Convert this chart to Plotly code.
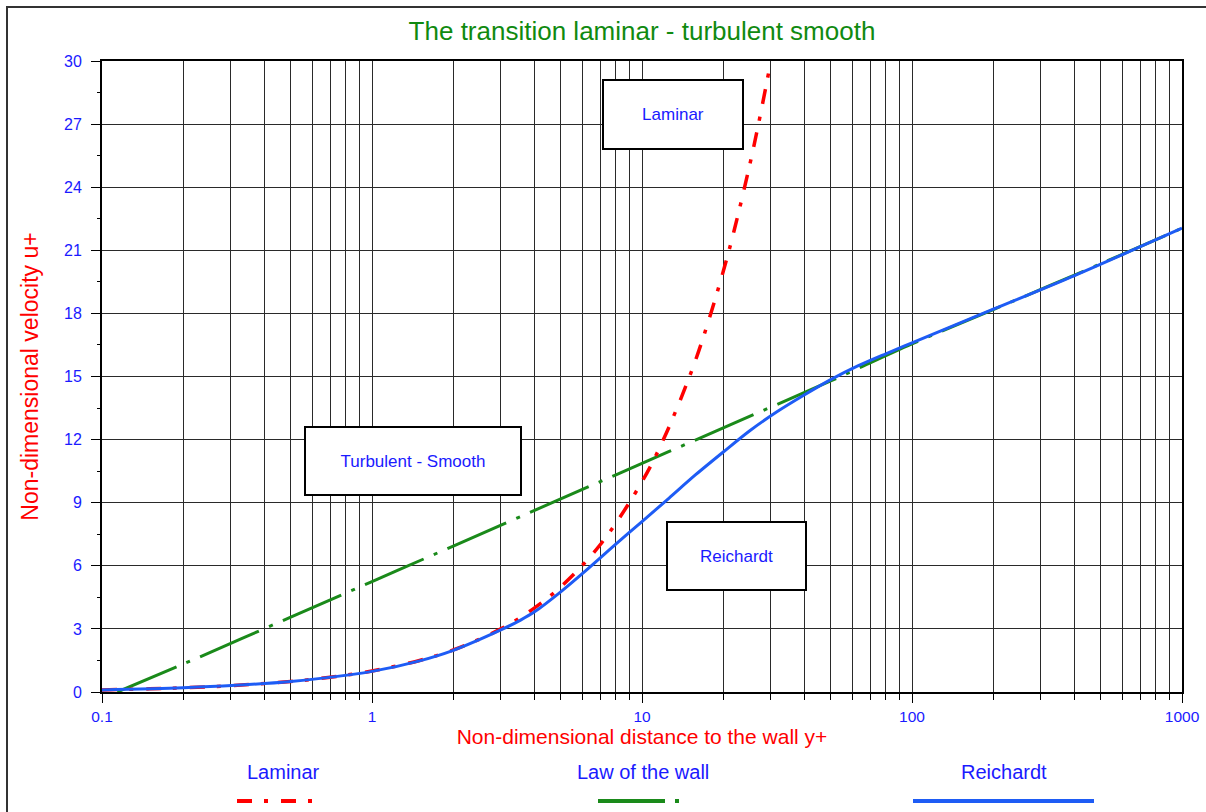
import plotly.graph_objects as go

# ---------------- data ----------------
laminar_x = [0.1, 0.15, 0.2, 0.3, 0.5, 0.7, 1, 1.5, 2, 3, 4, 5, 7, 10, 12, 15, 17, 20, 22, 25, 27, 29.5]
laminar_u = [0.1, 0.15, 0.2, 0.3, 0.5, 0.7, 1, 1.5, 2, 3, 4, 5, 7, 10, 12, 15, 17, 20, 22, 25, 27, 29.5]

wall_x = [0.114, 0.2, 0.5, 1, 2, 5, 10, 20, 50, 100, 200, 500, 1000]
wall_u = [0.0, 1.33, 3.56, 5.25, 6.94, 9.18, 10.87, 12.56, 14.79, 16.55, 18.18, 20.36, 22.05]

reich_x = [0.1, 0.2, 0.5, 1, 1.5, 2, 3, 3.55, 4, 5, 6.3, 7.9, 10, 12.6, 15.8, 20, 25, 31.6,
           40, 50, 63, 80, 100, 200, 400, 1000]
reich_u = [0.1, 0.2, 0.5, 0.98, 1.48, 1.98, 2.95, 3.42, 3.81, 4.76, 5.85, 6.97, 8.10, 9.22,
           10.33, 11.41, 12.41, 13.32, 14.13, 14.85, 15.50, 16.08, 16.60, 18.2, 19.8, 22.05]

x_tickvals = [0.1, 1, 10, 100, 1000]
x_ticktext = ["0.1", "1", "10", "100", "1000"]
x_minorvals = [0.2, 0.3, 0.4, 0.5, 0.6, 0.7, 0.8, 0.9,
               2, 3, 4, 5, 6, 7, 8, 9,
               20, 30, 40, 50, 60, 70, 80, 90,
               200, 300, 400, 500, 600, 700, 800, 900]
y_tickvals = [0, 3, 6, 9, 12, 15, 18, 21, 24, 27, 30]

series_names = ["Laminar", "Law of the wall", "Reichardt"]
box_labels = ["Laminar", "Turbulent - Smooth", "Reichardt"]

# ---------------- styles ----------------
FONT = "Liberation Sans, Arial, sans-serif"
RED = "#ff0000"
GREEN = "#1a8a1a"
BLUE = "#1e5cf5"
TXTBLUE = "#1a1aff"
RED_DASH = "15px,12px,4px,13px"
GREEN_DASH = "64px,11px,4px,11px"

W, H = 1206, 812
L, R, T, B = 102, 24, 61, 120
PW = W - L - R
PH = H - T - B


def px2paper(px, py):
    return (px - L) / PW, (H - B - py) / PH


fig = go.Figure()
fig.add_trace(go.Scatter(x=wall_x, y=wall_u, mode="lines", name=series_names[1],
                         line=dict(color=GREEN, width=3, dash=GREEN_DASH, shape="spline"),
                         showlegend=False))
fig.add_trace(go.Scatter(x=laminar_x, y=laminar_u, mode="lines", name=series_names[0],
                         line=dict(color=RED, width=3.5, dash=RED_DASH, shape="spline"),
                         showlegend=False))
fig.add_trace(go.Scatter(x=reich_x, y=reich_u, mode="lines", name=series_names[2],
                         line=dict(color=BLUE, width=3, shape="spline", smoothing=0.8),
                         showlegend=False))

grid_col = "#2a2a2a"
fig.update_xaxes(type="log", range=[-1, 3], tickvals=x_tickvals, ticktext=x_ticktext,
                 automargin=False,
                 showgrid=True, gridcolor=grid_col, gridwidth=1,
                 ticks="outside", ticklen=9, tickcolor="black", tickwidth=1,
                 showline=True, linecolor="black", linewidth=2, mirror=True,
                 tickfont=dict(family=FONT, size=15.5, color=TXTBLUE),
                 minor=dict(tickvals=x_minorvals, showgrid=True, gridcolor=grid_col, gridwidth=1,
                            ticks="outside", ticklen=6, tickcolor="black"),
                 title=dict(text="Non-dimensional distance to the wall y+",
                            font=dict(family=FONT, size=21, color=RED), standoff=6),
                 zeroline=False)
fig.update_yaxes(range=[0, 30], tickvals=y_tickvals,
                 automargin=False,
                 showgrid=True, gridcolor=grid_col, gridwidth=1,
                 ticks="outside", ticklen=9, tickcolor="black", tickwidth=1,
                 showline=True, linecolor="black", linewidth=2, mirror=True,
                 tickfont=dict(family=FONT, size=16, color=TXTBLUE),
                 ticklabelstandoff=6,
                 minor=dict(dtick=1.5, tick0=0, showgrid=False, ticks="outside", ticklen=3,
                            tickcolor="black"),
                 title=dict(text="Non-dimensional velocity u+",
                            font=dict(family=FONT, size=23, color=RED), standoff=19),
                 zeroline=False)

annotations = []
# boxed labels inside the plot
box_specs = [
    (box_labels[0], 673.3, 114.5, 138, 67),
    (box_labels[1], 413.3, 461.0, 214, 66),
    (box_labels[2], 736.3, 556.0, 137, 66),
]
for text, cx, cy, bw, bh in box_specs:
    xp, yp = px2paper(cx, cy)
    annotations.append(dict(text=text, x=xp, y=yp, xref="paper", yref="paper",
                            xanchor="center", yanchor="middle", showarrow=False,
                            width=bw, height=bh, borderpad=0, borderwidth=2,
                            bordercolor="black", bgcolor="white", align="center", valign="middle",
                            font=dict(family=FONT, size=17, color=TXTBLUE)))

# custom legend (names above, line samples below)
legend_name_pos = [283, 643, 1004]
for name, cx in zip(series_names, legend_name_pos):
    xp, yp = px2paper(cx, 772)
    annotations.append(dict(text=name, x=xp, y=yp, xref="paper", yref="paper",
                            xanchor="center", yanchor="middle", showarrow=False,
                            font=dict(family=FONT, size=20, color=TXTBLUE)))

shapes = []
legend_samples = [
    (237, 314, RED, RED_DASH),
    (598, 682, GREEN, "67px,10px,4px,40px"),
    (913, 1094, BLUE, "solid"),
]
for x0, x1, col, dash in legend_samples:
    a0, b0 = px2paper(x0, 801)
    a1, b1 = px2paper(x1, 801)
    shapes.append(dict(type="line", xref="paper", yref="paper", x0=a0, y0=b0, x1=a1, y1=b1,
                       line=dict(color=col, width=4, dash=dash)))

# outer frame of the picture
fx0, fy0 = px2paper(7, 7)
fx1, fy1 = px2paper(1215, 830)
shapes.append(dict(type="rect", xref="paper", yref="paper", x0=fx0, y0=fy1, x1=fx1, y1=fy0,
                   line=dict(color="#333333", width=2), fillcolor="rgba(0,0,0,0)", layer="below"))

fig.update_layout(
    width=W, height=H,
    autosize=False,
    margin=dict(l=L, r=R, t=T, b=B, autoexpand=False),
    paper_bgcolor="white", plot_bgcolor="white",
    title=dict(text="The transition laminar - turbulent smooth",
               font=dict(family=FONT, size=26, color="#108a10"),
               x=0.5, xref="paper", xanchor="center",
               y=1 - 31 / H, yref="container", yanchor="middle"),
    annotations=annotations,
    shapes=shapes,
    showlegend=False,
)

fig.write_html("out.html",
               config={"displayModeBar": False},
               post_script="document.body.style.margin='0';document.body.style.overflow='hidden';")
